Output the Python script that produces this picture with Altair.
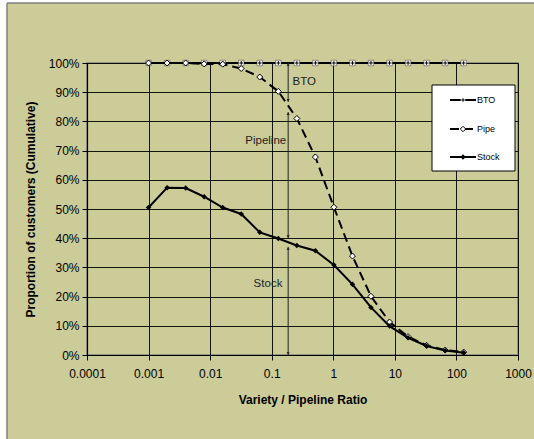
import altair as alt
import pandas as pd

# ---- data ----
ratio = [0.001, 0.002, 0.004, 0.008, 0.016, 0.032, 0.064, 0.128, 0.256,
         0.512, 1.024, 2.048, 4.096, 8.192, 16.384, 32.768, 65.536, 131.072]
bto = [100, 100, 100, 100, 100, 100, 100, 100, 100,
       100, 100, 100, 100, 100, 100, 100, 100, 100]
pipe = [100, 100, 100, 99.7, 99.6, 98.1, 95.2, 90.3, 81.0,
        67.8, 50.6, 33.9, 20.1, 11.3, 6.3, 3.3, 1.7, 1.0]
stock = [50.5, 57.3, 57.2, 54.2, 50.5, 48.3, 42.0, 39.9, 37.5,
         35.7, 30.8, 24.2, 16.3, 9.9, 5.9, 3.1, 1.5, 0.8]

series_names = ["BTO", "Pipe", "Stock"]
x_ticks = [0.0001, 0.001, 0.01, 0.1, 1, 10, 100, 1000]
y_ticks = [0, 10, 20, 30, 40, 50, 60, 70, 80, 90, 100]

# annotation: double arrow at ratio ~0.185, split in three parts
arrow_x = 0.185
arrow_from = [100, 83.2, 37.0]
arrow_to = [86.7, 40.0, 0]
note_text = ["BTO", "Pipeline", "Stock"]
note_x = [0.337, 0.08, 0.087]
note_y = [93.4, 73.3, 24.3]

FONT = "Liberation Sans"
BG = "#CCCC99"

X = alt.X("x:Q",
          scale=alt.Scale(type="log", domain=[0.0001, 1000], nice=False),
          axis=alt.Axis(values=x_ticks, format=".4~f", title="Variety / Pipeline Ratio",
                        grid=True, gridColor="#000000", gridOpacity=0.9, gridWidth=1,
                        domainColor="#000000", domainWidth=1.2, tickColor="#000000",
                        tickSize=5, labelFontSize=12, labelPadding=8, labelColor="#000000",
                        labelFont=FONT, titleFont=FONT, titleFontSize=12, titleFontWeight="bold",
                        titleColor="#000000", titlePadding=15, labelFlush=False))
Y = alt.Y("y:Q",
          scale=alt.Scale(domain=[0, 100], nice=False),
          axis=alt.Axis(values=y_ticks, labelExpr="datum.value + '%'",
                        title="Proportion of customers (Cumulative)",
                        grid=True, gridColor="#000000", gridOpacity=0.9, gridWidth=1,
                        domainColor="#000000", domainWidth=1.2, tickColor="#000000",
                        tickSize=5, labelFontSize=12, labelPadding=3, labelColor="#000000",
                        labelFont=FONT, titleFont=FONT, titleFontSize=12, titleFontWeight="bold",
                        titleColor="#000000", titlePadding=11))

df_bto = pd.DataFrame({"x": ratio, "y": bto})
df_pipe = pd.DataFrame({"x": ratio, "y": pipe})
df_stock = pd.DataFrame({"x": ratio, "y": stock})
one = pd.DataFrame({"k": [0]})  # single row for decorations

layers = []

# outer frame (white margin strip + grey border), positioned relative to the plot origin
frame_rects = [(-87, -80, -63, 380), (-87, 450, -63, -60)]
for x1, x2, y1, y2 in frame_rects:
    layers.append(alt.Chart(one).mark_rect(color="white").encode(
        x=alt.value(x1), x2=alt.value(x2), y=alt.value(y1), y2=alt.value(y2)))
layers.append(alt.Chart(one).mark_rule(color="#808080", strokeWidth=1.5).encode(
    x=alt.value(-80), y=alt.value(-60), y2=alt.value(380)))
layers.append(alt.Chart(one).mark_rule(color="#808080", strokeWidth=1.5).encode(
    x=alt.value(-80), x2=alt.value(450), y=alt.value(-60)))

# BTO
layers.append(alt.Chart(df_bto).mark_line(color="black", strokeWidth=2).encode(x=X, y=Y))
layers.append(alt.Chart(df_bto).mark_point(shape="square", size=30, filled=True, fill="white",
                                           stroke="#333333", strokeWidth=0.5, opacity=1).encode(x=X, y=Y))
layers.append(alt.Chart(df_bto).mark_point(shape="M-1,0H1M0,-1V1", size=14, filled=False,
                                           stroke="black", strokeWidth=1, opacity=1).encode(x=X, y=Y))
# Pipe
layers.append(alt.Chart(df_pipe).mark_line(color="black", strokeWidth=2, strokeDash=[9, 5]).encode(x=X, y=Y))
layers.append(alt.Chart(df_pipe).mark_point(shape="diamond", size=36, filled=True, fill="white",
                                            stroke="black", strokeWidth=1, opacity=1).encode(x=X, y=Y))
# Stock
layers.append(alt.Chart(df_stock).mark_line(color="black", strokeWidth=2).encode(x=X, y=Y))
layers.append(alt.Chart(df_stock).mark_point(shape="diamond", size=30, filled=True, fill="black",
                                             opacity=1).encode(x=X, y=Y))

# double arrow annotation
df_arrow = pd.DataFrame({"x": [arrow_x] * 3, "y": arrow_from, "y2": arrow_to})
layers.append(alt.Chart(df_arrow).mark_rule(color="#222222", strokeWidth=1).encode(
    x=X, y=Y, y2=alt.Y2("y2:Q")))
df_up = pd.DataFrame({"x": [arrow_x] * 3, "y": arrow_from})
df_dn = pd.DataFrame({"x": [arrow_x] * 3, "y": arrow_to})
layers.append(alt.Chart(df_up).mark_point(shape="triangle-up", size=10, filled=True, color="#222222",
                                          opacity=1, yOffset=1.5).encode(x=X, y=Y))
layers.append(alt.Chart(df_dn).mark_point(shape="triangle-down", size=10, filled=True, color="#222222",
                                          opacity=1, yOffset=-1.5).encode(x=X, y=Y))
df_notes = pd.DataFrame({"x": note_x, "y": note_y, "t": note_text})
layers.append(alt.Chart(df_notes).mark_text(font=FONT, fontSize=11.5, color="#222222",
                                            align="center", baseline="middle").encode(
    x=X, y=Y, text="t:N"))

# legend box (inside plot, top right)
layers.append(alt.Chart(one).mark_rect(fill="white", stroke="black", strokeWidth=1).encode(
    x=alt.value(345), x2=alt.value(428), y=alt.value(22), y2=alt.value(108)))
leg_y = [37, 66, 94]
for name, ly in zip(series_names, leg_y):
    if name == "Pipe":
        layers.append(alt.Chart(one).mark_rule(color="black", strokeWidth=2, strokeDash=[9, 5]).encode(
            x=alt.value(363), x2=alt.value(389), y=alt.value(ly)))
        layers.append(alt.Chart(one).mark_point(shape="diamond", size=30, filled=True, fill="white",
                                                stroke="black", strokeWidth=1, opacity=1).encode(
            x=alt.value(376), y=alt.value(ly)))
    elif name == "BTO":
        layers.append(alt.Chart(one).mark_rule(color="black", strokeWidth=2).encode(
            x=alt.value(363), x2=alt.value(389), y=alt.value(ly)))
        layers.append(alt.Chart(one).mark_point(shape="square", size=20, filled=True, fill="white",
                                                opacity=1).encode(x=alt.value(376), y=alt.value(ly)))
        layers.append(alt.Chart(one).mark_point(shape="M-1,0H1M0,-1V1", size=12, filled=False,
                                                stroke="black", strokeWidth=1, opacity=1).encode(
            x=alt.value(376), y=alt.value(ly)))
    else:
        layers.append(alt.Chart(one).mark_rule(color="black", strokeWidth=2).encode(
            x=alt.value(363), x2=alt.value(389), y=alt.value(ly)))
        layers.append(alt.Chart(one).mark_point(shape="diamond", size=28, filled=True, fill="black",
                                                opacity=1).encode(x=alt.value(376), y=alt.value(ly)))
    layers.append(alt.Chart(one).mark_text(text=name, font=FONT, fontSize=9, color="black",
                                           align="left", baseline="middle").encode(
        x=alt.value(390), y=alt.value(ly)))

chart = alt.layer(*layers).properties(
    width=431, height=292,
    autosize=alt.AutoSizeParams(type="none"),
    padding={"left": 87, "top": 63, "right": 16, "bottom": 84},
    background=BG,
).configure_view(stroke="#808080", strokeWidth=1.5, fill=BG)

chart.save("out.html", embed_options={"renderer": "svg", "actions": False})
